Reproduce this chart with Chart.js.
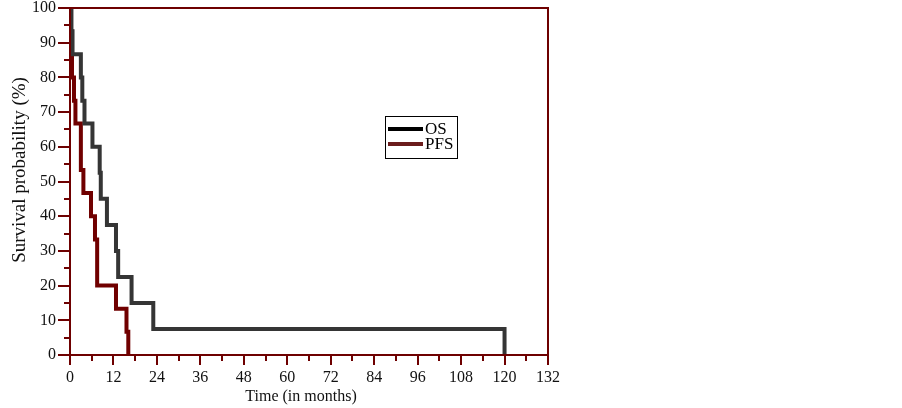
<!DOCTYPE html>
<html>
<head>
<meta charset="utf-8">
<script src="https://cdn.jsdelivr.net/npm/chart.js@4.4.0/dist/chart.umd.min.js"></script>
<style>
  html, body { margin: 0; padding: 0; background: #ffffff; }
  #wrap { width: 902px; height: 408px; position: relative; }
</style>
</head>
<body>
<div id="wrap"><canvas id="c" width="902" height="408"></canvas></div>
<script>
// Kaplan-Meier step data (time in months, survival %)
const osTimes  = [0, 0.4, 0.7, 3.0, 3.4, 4.0, 6.2, 8.2, 8.5, 10.2, 12.7, 13.3, 17.0, 23.0, 120];
const osValues = [100, 93.3, 86.7, 80, 73.3, 66.7, 60, 52.5, 45, 37.5, 30, 22.5, 15, 7.5, 0];

const pfsTimes  = [0, 0.15, 0.4, 0.55, 1.1, 1.5, 3.0, 3.7, 5.8, 6.9, 7.5, 12.7, 15.6, 16.1];
const pfsValues = [100, 93.3, 86.7, 80, 73.3, 66.7, 53.3, 46.7, 40, 33.3, 20, 13.3, 6.7, 0];

const seriesLabels = ['OS', 'PFS'];
const xTickValues = [0, 12, 24, 36, 48, 60, 72, 84, 96, 108, 120, 132];
const yTickValues = [0, 10, 20, 30, 40, 50, 60, 70, 80, 90, 100];
const xTitle = 'Time (in months)';
const yTitle = 'Survival probability (%)';

const AXIS = '#6e0000';
const OS_COLOR = '#353535';
const PFS_COLOR = '#700000';
const FONT = '"Liberation Serif", "Times New Roman", serif';

const toPts = (xs, ys) => xs.map((x, i) => ({ x: x, y: ys[i] }));

const framePlugin = {
  id: 'frame',
  afterDraw(chart) {
    const ctx = chart.ctx;
    const a = chart.chartArea;
    const xs = chart.scales.x, ys = chart.scales.y;
    ctx.save();
    ctx.strokeStyle = AXIS;
    ctx.lineWidth = 2;
    // frame
    ctx.strokeRect(a.left, a.top, a.right - a.left, a.bottom - a.top);
    // x ticks (major every 12, minor in between)
    ctx.beginPath();
    for (let v = 0; v <= 132; v += 6) {
      const px = Math.round(xs.getPixelForValue(v));
      const len = (v % 12 === 0) ? 10 : 6;
      ctx.moveTo(px, a.bottom);
      ctx.lineTo(px, a.bottom + len);
    }
    // y ticks (major every 10, minor in between)
    for (let v = 0; v <= 100; v += 5) {
      const py = Math.round(ys.getPixelForValue(v));
      const len = (v % 10 === 0) ? 12 : 6;
      ctx.moveTo(a.left, py);
      ctx.lineTo(a.left - len, py);
    }
    ctx.stroke();

    // axis titles
    ctx.fillStyle = '#111';
    ctx.font = '16px ' + FONT;
    ctx.textAlign = 'center';
    ctx.textBaseline = 'middle';
    ctx.fillText(xTitle, 301, 397);
    ctx.save();
    ctx.font = '19px ' + FONT;
    ctx.translate(20, 170);
    ctx.rotate(-Math.PI / 2);
    ctx.fillText(yTitle, 0, 0);
    ctx.restore();

    // legend
    const lx = 385, ly = 116, lw = 72, lh = 42;
    ctx.lineWidth = 1;
    ctx.strokeStyle = '#000';
    ctx.strokeRect(lx + 0.5, ly + 0.5, lw, lh);
    const sampleColors = ['#000000', '#6b1c1c'];
    chart.data.datasets.forEach((ds, i) => {
      const y = ly + 13 + i * 15;
      ctx.strokeStyle = sampleColors[i];
      ctx.lineWidth = 4;
      ctx.beginPath();
      ctx.moveTo(lx + 3, y);
      ctx.lineTo(lx + 38, y);
      ctx.stroke();
      ctx.fillStyle = '#000';
      ctx.textAlign = 'left';
      ctx.textBaseline = 'middle';
      ctx.font = '17px ' + FONT;
      ctx.fillText(ds.label, lx + 40, y + 1);
    });
    ctx.restore();
  }
};

new Chart(document.getElementById('c'), {
  type: 'line',
  data: {
    datasets: [
      {
        label: seriesLabels[0],
        data: toPts(osTimes, osValues),
        stepped: 'before',
        borderColor: OS_COLOR,
        borderWidth: 4,
        pointRadius: 0,
        fill: false,
        borderCapStyle: 'butt',
        borderJoinStyle: 'miter'
      },
      {
        label: seriesLabels[1],
        data: toPts(pfsTimes, pfsValues),
        stepped: 'before',
        borderColor: PFS_COLOR,
        borderWidth: 4,
        pointRadius: 0,
        fill: false,
        borderCapStyle: 'butt',
        borderJoinStyle: 'miter'
      }
    ]
  },
  options: {
    responsive: false,
    animation: false,
    devicePixelRatio: 1,
    layout: { padding: { left: 0, right: 354, top: 8, bottom: 0 } },
    plugins: { legend: { display: false }, tooltip: { enabled: false } },
    scales: {
      x: {
        type: 'linear',
        min: 0, max: 132,
        afterBuildTicks: (s) => { s.ticks = xTickValues.map(v => ({ value: v })); },
        afterFit: (s) => { s.height = 53; s.paddingLeft = 0; s.paddingRight = 0; s.paddingTop = 0; s.paddingBottom = 0; },
        grid: { display: false, drawTicks: false },
        border: { display: false },
        ticks: { color: '#111', font: { family: FONT, size: 16 }, padding: 13, maxRotation: 0, autoSkip: false }
      },
      y: {
        type: 'linear',
        min: 0, max: 100,
        afterBuildTicks: (s) => { s.ticks = yTickValues.map(v => ({ value: v })); },
        afterFit: (s) => { s.width = 70; s.paddingTop = 0; s.paddingBottom = 0; s.paddingLeft = 0; s.paddingRight = 0; },
        grid: { display: false, drawTicks: false },
        border: { display: false },
        ticks: { color: '#111', font: { family: FONT, size: 16 }, padding: 14 }
      }
    }
  },
  plugins: [framePlugin]
});
</script>
</body>
</html>
